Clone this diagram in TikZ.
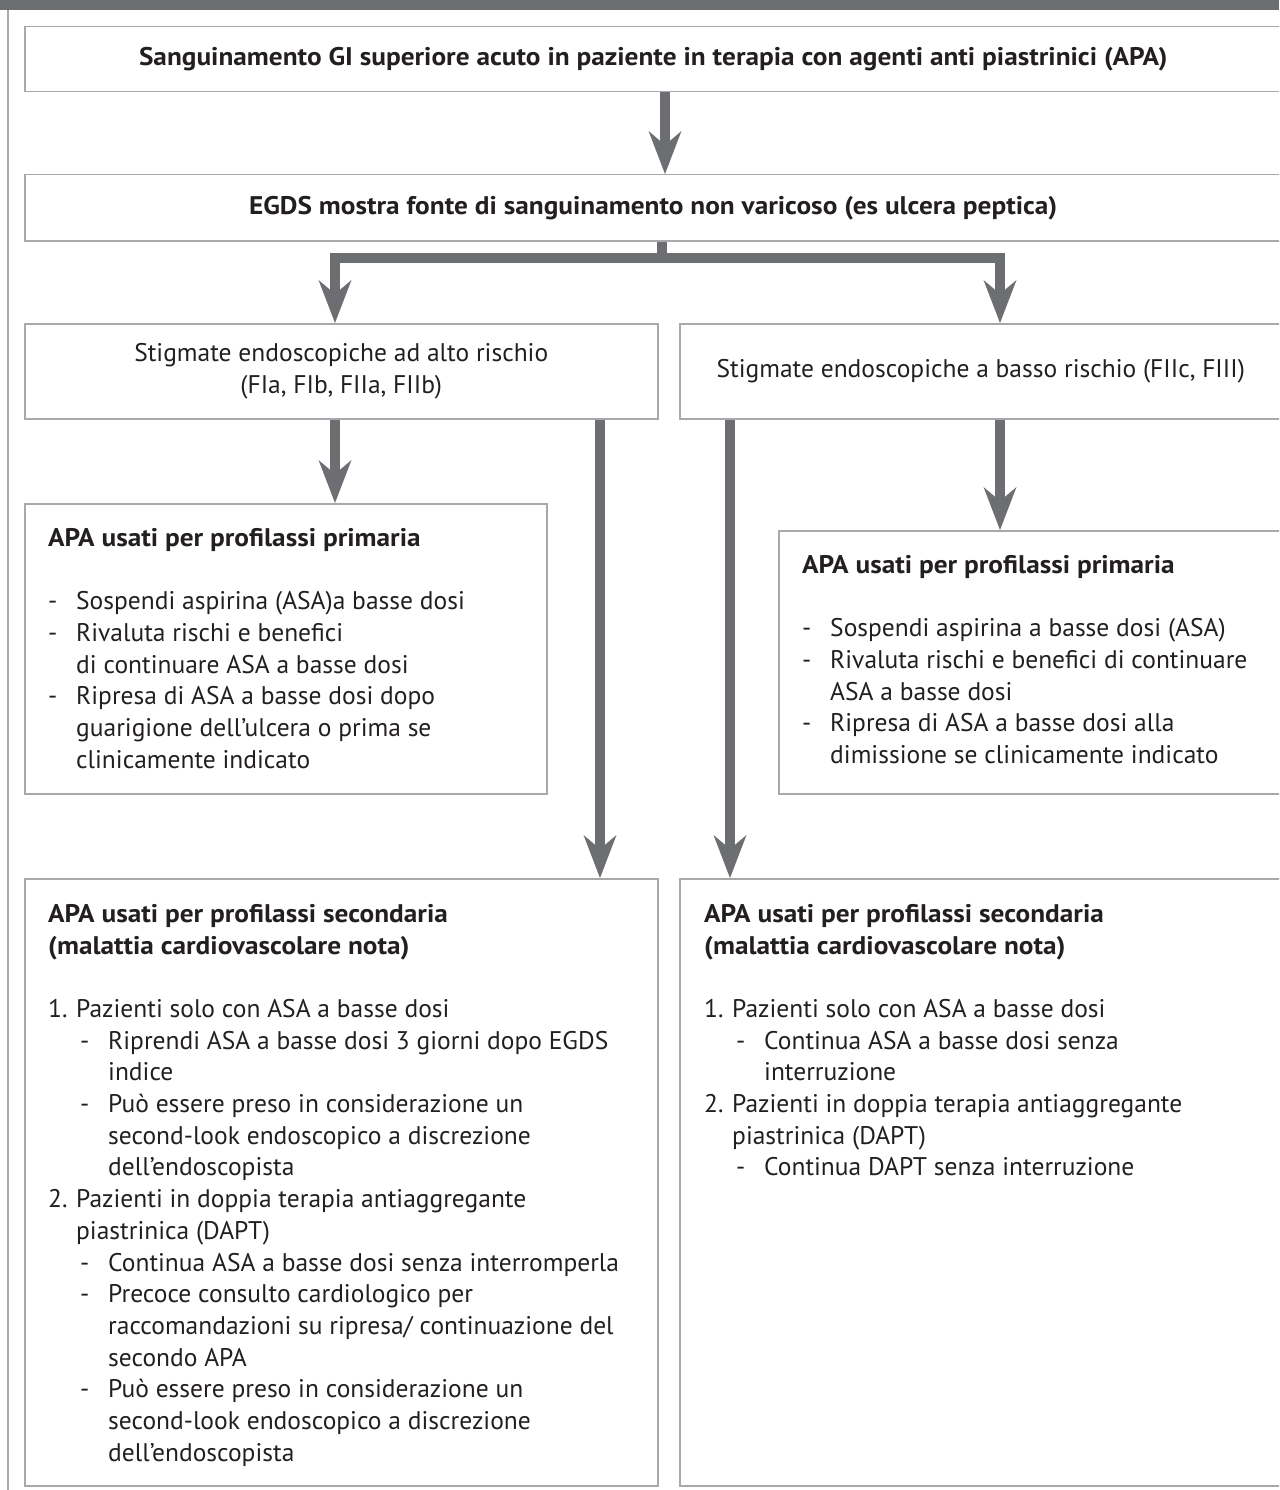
\documentclass[tikz,border=0pt]{standalone}
\usepackage{fontspec}
\setmainfont{PT Sans}[BoldFeatures={FakeStretch=1.07}]
\usetikzlibrary{arrows.meta,positioning}

\definecolor{flowgray}{HTML}{6D6E71}
\definecolor{framegray}{HTML}{A7A9AC}
\definecolor{inkblack}{HTML}{231F20}

% list helpers
\newcommand{\dashit}{\makebox[28pt][l]{-}}
\newcommand{\hangit}{\hspace*{28pt}}
\newcommand{\numit}[1]{\makebox[28pt][l]{#1}}
\newcommand{\subdash}{\hspace*{32pt}\makebox[28pt][l]{-}}
\newcommand{\subhang}{\hspace*{60pt}}

\begin{document}
\begin{tikzpicture}[x=1pt, y=-1pt,
    frame/.style={draw=framegray, line width=1.5pt, inner sep=0pt, anchor=north west},
    body/.style={font=\fontsize{25.5}{31.7}\selectfont, text=inkblack, inner sep=0pt},
    flow/.style={draw=flowgray, line width=10pt},
    flowtip/.style={flow, -{Stealth[length=43pt, width=33pt, inset=14pt, line width=0pt]}}]
  \useasboundingbox (0,0) rectangle (1279,1490);
  \clip (0,0) rectangle (1279,1490);

  % Top bar and left rule
  \fill[flowgray] (0,0) rectangle (1279,10);
  \draw[framegray, line width=1.5pt] (8,10) -- (8,1490);

  % Boxes
  \node[frame, body, font=\fontsize{25.5}{31.7}\selectfont\bfseries, minimum width=1257pt, minimum height=65pt] (bleed) at (24,26)
    {Sanguinamento GI superiore acuto in paziente in terapia con agenti anti piastrinici (APA)};
  \node[frame, body, font=\fontsize{25.5}{31.7}\selectfont\bfseries, minimum width=1257pt, minimum height=66pt] (egds) at (24,174)
    {EGDS mostra fonte di sanguinamento non varicoso (es ulcera peptica)};
  \node[frame, body, align=center, minimum width=633pt, minimum height=95pt] (high) at (24,323)
    {Stigmate endoscopiche ad alto rischio\\(FIa, FIb, FIIa, FIIb)};
  \node[frame, body, minimum width=602pt, minimum height=95pt] (low) at (679,323)
    {Stigmate endoscopiche a basso rischio (FIIc, FIII)};
  \node[frame, minimum width=522pt, minimum height=290pt] (primL) at (24,503) {};
  \node[frame, minimum width=503pt, minimum height=263pt] (primR) at (778,530) {};
  \node[frame, minimum width=633pt, minimum height=607pt] (secL) at (24,878) {};
  \node[frame, minimum width=602pt, minimum height=607pt] (secR) at (679,878) {};

  % Box texts
  \node[body, align=left, below right=25pt and 24pt of primL.north west] (primL_text)
    {\textbf{APA usati per profilassi primaria}\\[31.7pt]
     \dashit Sospendi aspirina (ASA)a basse dosi\\
     \dashit Rivaluta rischi e benefici\\
     \hangit di continuare ASA a basse dosi\\
     \dashit Ripresa di ASA a basse dosi dopo\\
     \hangit guarigione dell’ulcera o prima se\\
     \hangit clinicamente indicato};
  \node[body, align=left, below right=25pt and 24pt of primR.north west] (primR_text)
    {\textbf{APA usati per profilassi primaria}\\[31.7pt]
     \dashit Sospendi aspirina a basse dosi (ASA)\\
     \dashit Rivaluta rischi e benefici di continuare\\
     \hangit ASA a basse dosi\\
     \dashit Ripresa di ASA a basse dosi alla\\
     \hangit dimissione se clinicamente indicato};
  \node[body, align=left, below right=26pt and 24pt of secL.north west] (secL_text)
    {\textbf{APA usati per profilassi secondaria}\\
     \textbf{(malattia cardiovascolare nota)}\\[31.7pt]
     \numit{1.}Pazienti solo con ASA a basse dosi\\
     \subdash Riprendi ASA a basse dosi 3 giorni dopo EGDS\\
     \subhang indice\\
     \subdash Può essere preso in considerazione un\\
     \subhang second-look endoscopico a discrezione\\
     \subhang dell’endoscopista\\
     \numit{2.}Pazienti in doppia terapia antiaggregante\\
     \hangit piastrinica (DAPT)\\
     \subdash Continua ASA a basse dosi senza interromperla\\
     \subdash Precoce consulto cardiologico per\\
     \subhang raccomandazioni su ripresa/ continuazione del\\
     \subhang secondo APA\\
     \subdash Può essere preso in considerazione un\\
     \subhang second-look endoscopico a discrezione\\
     \subhang dell’endoscopista};
  \node[body, align=left, below right=26pt and 25pt of secR.north west] (secR_text)
    {\textbf{APA usati per profilassi secondaria}\\
     \textbf{(malattia cardiovascolare nota)}\\[31.7pt]
     \numit{1.}Pazienti solo con ASA a basse dosi\\
     \subdash Continua ASA a basse dosi senza\\
     \subhang interruzione\\
     \numit{2.}Pazienti in doppia terapia antiaggregante\\
     \hangit piastrinica (DAPT)\\
     \subdash Continua DAPT senza interruzione};

  % Arrow positions
  \coordinate (main_x) at (665,0);
  \coordinate (split) at (662,258);
  \coordinate (hi_x) at (335,0);
  \coordinate (lo_x) at (1000,0);
  \coordinate (skip_l) at (600,0);
  \coordinate (skip_r) at (730,0);

  % Draw arrows
  \draw[flowtip] (bleed.south -| main_x) -- (egds.north -| main_x);
  \draw[flow] (egds.south -| split) -- (split);
  \draw[flowtip] (split) -| (high.north -| hi_x);
  \draw[flowtip] (split) -| (low.north -| lo_x);
  \draw[flowtip] (high.south -| hi_x) -- (primL.north -| hi_x);
  \draw[flowtip] (low.south -| lo_x) -- (primR.north -| lo_x);
  \draw[flowtip] (high.south -| skip_l) -- (secL.north -| skip_l);
  \draw[flowtip] (low.south -| skip_r) -- (secR.north -| skip_r);
\end{tikzpicture}
\end{document}
